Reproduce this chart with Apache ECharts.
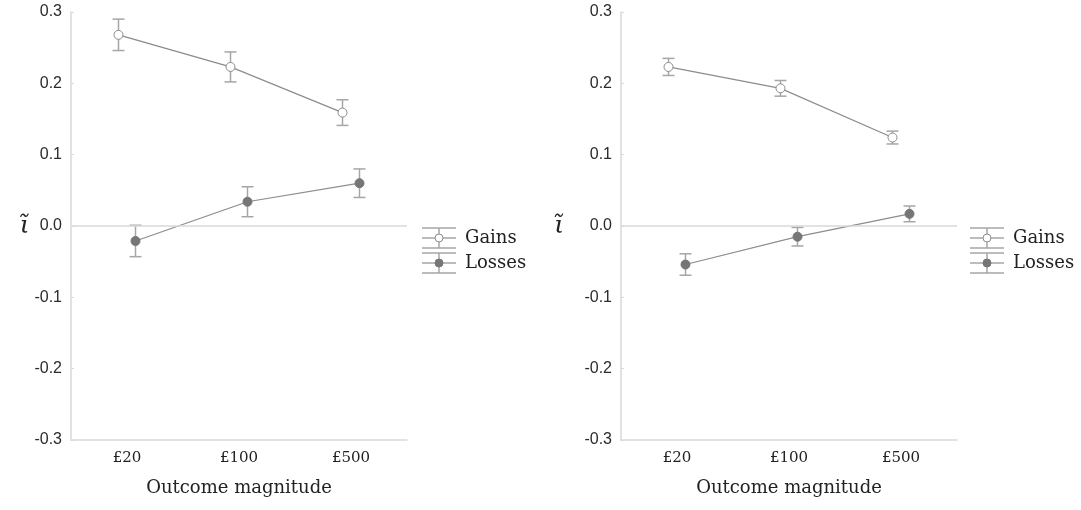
<!DOCTYPE html>
<html>
<head>
<meta charset="utf-8">
<script src="https://cdn.jsdelivr.net/npm/echarts@6/dist/echarts.min.js"></script>
<style>
  html, body { margin: 0; padding: 0; background: #fff; }
  #chart { width: 1081px; height: 510px; }
</style>
</head>
<body>
<div id="chart"></div>
<script>
// data
const categories = ['£20', '£100', '£500']
const yTicks = [-0.3, 0.3, 0.1]   // min, max, interval

const leftGains = [0.268, 0.223, 0.159]
const leftGainsErr = [0.022, 0.021, 0.018]
const leftLosses = [-0.021, 0.034, 0.060]
const leftLossesErr = [0.022, 0.021, 0.020]

const rightGains = [0.223, 0.193, 0.124]
const rightGainsErr = [0.012, 0.011, 0.009]
const rightLosses = [-0.054, -0.015, 0.017]
const rightLossesErr = [0.015, 0.013, 0.011]

const seriesNames = ['Gains', 'Losses']

const SERIF = '"DejaVu Serif", serif'
const SANS = '"Liberation Sans", Arial, sans-serif'
const axisGrey = '#d9d9d9'
const barGrey = '#a6a6a6'
const lineGrey = '#8c8c8c'
const lossFill = '#767676'

const chart = echarts.init(document.getElementById('chart'))

function makeSeries (name, values, errs, gridIdx, dodge, hollow, withZero) {
  const s = {
    name: name,
    type: 'custom',
    xAxisIndex: gridIdx,
    yAxisIndex: gridIdx,
    data: values.map((v, i) => [i, v, errs[i]]),
    renderItem: function (params, api) {
      const i = api.value(0)
      const v = api.value(1)
      const e = api.value(2)
      const p = api.coord([i, v])
      const hi = api.coord([i, v + e])
      const lo = api.coord([i, v - e])
      const x = p[0] + dodge
      const children = []
      if (i < values.length - 1) {
        const q = api.coord([i + 1, values[i + 1]])
        children.push({
          type: 'line', z2: 1,
          shape: { x1: x, y1: p[1], x2: q[0] + dodge, y2: q[1] },
          style: { stroke: lineGrey, lineWidth: 1.2 }
        })
      }
      const bar = { stroke: barGrey, lineWidth: 1.5 }
      children.push({ type: 'line', z2: 2, shape: { x1: x, y1: hi[1], x2: x, y2: lo[1] }, style: bar })
      children.push({ type: 'line', z2: 2, shape: { x1: x - 6, y1: hi[1], x2: x + 6, y2: hi[1] }, style: bar })
      children.push({ type: 'line', z2: 2, shape: { x1: x - 6, y1: lo[1], x2: x + 6, y2: lo[1] }, style: bar })
      children.push({
        type: 'circle', z2: 3,
        shape: { cx: x, cy: p[1], r: 4.5 },
        style: hollow ? { fill: '#fff', stroke: lineGrey, lineWidth: 1 } : { fill: lossFill, stroke: lossFill, lineWidth: 1 }
      })
      return { type: 'group', children: children }
    }
  }
  if (withZero) {
    s.markLine = {
      silent: true,
      symbol: 'none',
      label: { show: false },
      lineStyle: { color: axisGrey, type: 'solid', width: 1.5 },
      data: [{ yAxis: 0 }]
    }
  }
  return s
}

function xAxisFor (gridIdx) {
  return {
    type: 'category',
    gridIndex: gridIdx,
    data: categories,
    name: 'Outcome magnitude',
    nameLocation: 'middle',
    nameGap: 39,
    nameTextStyle: { fontFamily: SERIF, fontSize: 18, color: '#222' },
    axisLine: { onZero: false, lineStyle: { color: axisGrey, width: 1.5 } },
    axisTick: { inside: true, alignWithLabel: true, length: 3, lineStyle: { color: axisGrey } },
    axisLabel: { fontFamily: SERIF, fontSize: 15, color: '#222', margin: 11 },
    splitLine: { show: false }
  }
}

function yAxisFor (gridIdx, gap) {
  return {
    type: 'value',
    gridIndex: gridIdx,
    min: yTicks[0],
    max: yTicks[1],
    interval: yTicks[2],
    name: '\u03B9\u0303',
    nameLocation: 'middle',
    nameRotate: 0,
    nameGap: gap,
    nameTextStyle: { fontFamily: SERIF, fontStyle: 'italic', fontSize: 25, color: '#222' },
    axisLine: { show: true, lineStyle: { color: axisGrey, width: 1.5 } },
    axisTick: { show: true, inside: true, length: 3, lineStyle: { color: axisGrey } },
    axisLabel: {
      fontFamily: SANS, fontSize: 16, color: '#2b2b2b', margin: 9,
      formatter: v => v.toFixed(1)
    },
    splitLine: { show: false }
  }
}

function legendGraphic (x0, textX, yCenters) {
  const els = []
  yCenters.forEach((cy, k) => {
    const st = { stroke: barGrey, lineWidth: 1.5 }
    const mid = x0 + 17
    els.push({ type: 'line', shape: { x1: x0, y1: cy - 10, x2: x0 + 34, y2: cy - 10 }, style: st })
    els.push({ type: 'line', shape: { x1: x0, y1: cy, x2: x0 + 34, y2: cy }, style: st })
    els.push({ type: 'line', shape: { x1: x0, y1: cy + 10, x2: x0 + 34, y2: cy + 10 }, style: st })
    els.push({ type: 'line', shape: { x1: mid, y1: cy - 10, x2: mid, y2: cy + 10 }, style: st })
    els.push({
      type: 'circle', z: 110,
      shape: { cx: mid, cy: cy, r: 4 },
      style: k === 0 ? { fill: '#fff', stroke: lineGrey, lineWidth: 1 } : { fill: lossFill, stroke: lossFill }
    })
    els.push({
      type: 'text', x: textX, y: cy,
      style: { text: seriesNames[k], font: '18px ' + SERIF, fill: '#222', textVerticalAlign: 'middle' }
    })
  })
  return els
}

chart.setOption({
  animation: false,
  backgroundColor: '#fff',
  grid: [
    { left: 71, top: 12, width: 336, height: 428 },
    { left: 621, top: 12, width: 336, height: 428 }
  ],
  xAxis: [xAxisFor(0), xAxisFor(1)],
  yAxis: [yAxisFor(0, 40), yAxisFor(1, 57)],
  graphic: [
    ...legendGraphic(422, 465, [238, 263]),
    ...legendGraphic(970, 1013, [238, 263])
  ],
  series: [
    makeSeries(seriesNames[0], leftGains, leftGainsErr, 0, -8.5, true, true),
    makeSeries(seriesNames[1], leftLosses, leftLossesErr, 0, 8.5, false, false),
    makeSeries(seriesNames[0], rightGains, rightGainsErr, 1, -8.5, true, true),
    makeSeries(seriesNames[1], rightLosses, rightLossesErr, 1, 8.5, false, false)
  ]
})
</script>
</body>
</html>
